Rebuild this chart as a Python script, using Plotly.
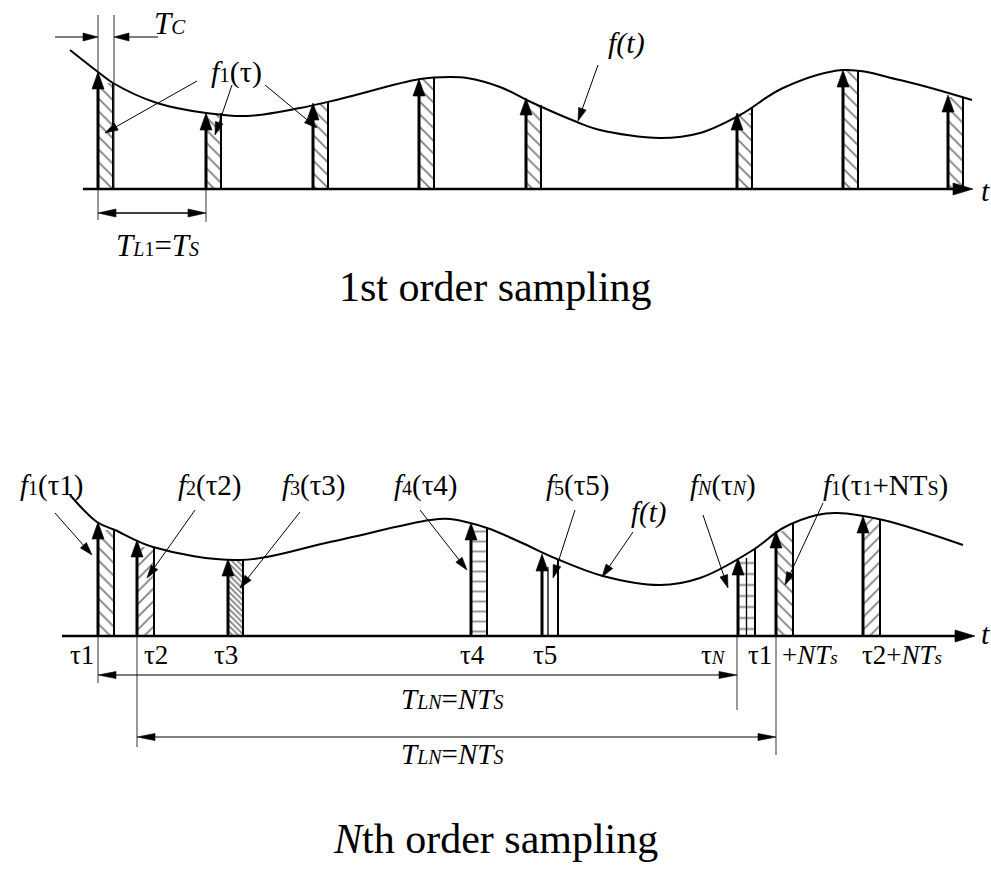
import plotly.graph_objects as go

FONT = "Liberation Serif, Times New Roman, serif"

# ---------------- 1st order sampling (upper panel) ----------------
# signal f(t): time positions and amplitudes above the time axis
top_curve_t = [70, 98, 113, 157, 206, 247, 300, 340, 420, 450, 467, 500, 533,
               577, 600, 660, 700, 740, 783, 843, 900, 972]
top_curve_f = [139, 117, 106, 86, 76, 73, 81, 90, 110, 112, 111, 102, 86,
               67, 59, 51, 56, 74, 101, 119, 109, 89]
# sampling instants, value at the start and at the end of each window
top_t = [98, 206, 313, 419, 526, 737, 843, 948]
top_f = [117, 76, 86, 110, 91, 76, 119, 94]
top_f_end = [106, 76, 87, 112, 84, 82, 118, 92]
Tc = 15          # window length
top_axis = (83, 973)

# ---------------- Nth order sampling (lower panel) ----------------
bot_curve_t = [70, 97, 115, 153, 240, 330, 430, 450, 487, 520, 557, 603, 660,
               700, 753, 783, 817, 837, 883, 963]
bot_curve_f = [141, 114, 106, 89, 76, 94, 116, 117, 108, 94, 77, 60, 51,
               58, 86, 108, 121, 123, 116, 91]
bot_t = [98, 137, 228, 471, 542, 738, 776, 863]
bot_w = [16, 17, 15, 16, 16, 17, 17, 17]
bot_f = [114, 96, 77, 113, 82, 78, 105, 120]
bot_f_end = [106, 89, 76, 108, 77, 87, 112, 117]
bot_hatch = ["\\", "/", "\\", "-", "", "-", "\\", "/"]
bot_hatch_size = [9, 9, 4, 10, 8, 11, 9, 9]
bot_solidity = [0.2, 0.2, 0.45, 0.16, 0.1, 0.16, 0.2, 0.2]
bot_axis = (62, 975)
bot_tick_labels = ["τ1", "τ2", "τ3", "τ4", "τ5", "τ<i><span style='font-size:19px'>N</span></i>",
                   "τ1", "+<i>NT</i><i><span style='font-size:19px'>s</span></i>",
                   "τ2+<i>NT</i><i><span style='font-size:19px'>s</span></i>"]
bot_tick_x = [82, 156, 226, 472, 545, 713, 760, 810, 902]

N_WINDOW = 639   # N*Ts span of the dimension arrows (tau_1 -> tau_N)

fig = go.Figure()


def sm(txt, size):
    return "<span style='font-size:%dpx'>%s</span>" % (size, txt)


def add_arrows(arrows, yaxis, width, head_len, head_w, both=False):
    xs, ys, hx, hy = [], [], [], []
    for (x0, y0, x1, y1) in arrows:
        dx, dy = x1 - x0, y1 - y0
        d = (dx * dx + dy * dy) ** 0.5
        ux, uy = dx / d, dy / d
        ends = [(x1, y1, ux, uy)]
        sx0, sy0 = x0, y0
        if both:
            ends.append((x0, y0, -ux, -uy))
            sx0, sy0 = x0 + ux * head_len * 0.6, y0 + uy * head_len * 0.6
        xs += [sx0, x1 - ux * head_len * 0.6, None]
        ys += [sy0, y1 - uy * head_len * 0.6, None]
        for (tx, ty, vx, vy) in ends:
            bx, by = tx - vx * head_len, ty - vy * head_len
            mx, my = -vy, vx
            hx += [tx, bx + mx * head_w / 2, bx - mx * head_w / 2, tx, None]
            hy += [ty, by + my * head_w / 2, by - my * head_w / 2, ty, None]
    fig.add_trace(go.Scatter(x=xs, y=ys, mode="lines", yaxis=yaxis,
                             line=dict(color="black", width=width),
                             hoverinfo="skip", showlegend=False))
    fig.add_trace(go.Scatter(x=hx, y=hy, mode="lines", fill="toself", yaxis=yaxis,
                             fillcolor="black", line=dict(color="black", width=0.6),
                             hoverinfo="skip", showlegend=False))


def add_lines(segs, yaxis, width, color="black"):
    xs, ys = [], []
    for (x0, y0, x1, y1) in segs:
        xs += [x0, x1, None]
        ys += [y0, y1, None]
    fig.add_trace(go.Scatter(x=xs, y=ys, mode="lines", yaxis=yaxis,
                             line=dict(color=color, width=width),
                             hoverinfo="skip", showlegend=False))


# ---------- hatched sampling windows ----------
fig.add_trace(go.Bar(
    x=[t + Tc / 2 for t in top_t], y=[min(a, b) for a, b in zip(top_f, top_f_end)],
    width=[Tc] * len(top_t), base=0, yaxis="y",
    marker=dict(color="white", line=dict(width=0),
                pattern=dict(shape="\\", size=9, solidity=0.2,
                             fgcolor="black", bgcolor="white")),
    hoverinfo="skip", showlegend=False))

fig.add_trace(go.Bar(
    x=[t + w / 2 for t, w in zip(bot_t, bot_w)],
    y=[min(a, b) for a, b in zip(bot_f, bot_f_end)],
    width=bot_w, base=0, yaxis="y2",
    marker=dict(color="white", line=dict(width=0),
                pattern=dict(shape=bot_hatch, size=bot_hatch_size, solidity=bot_solidity,
                             fgcolor="black", bgcolor="white")),
    hoverinfo="skip", showlegend=False))

# ---------- signal curves ----------
fig.add_trace(go.Scatter(x=top_curve_t, y=top_curve_f, mode="lines", yaxis="y",
                         line=dict(color="black", width=2, shape="spline", smoothing=1.0),
                         hoverinfo="skip", showlegend=False))
fig.add_trace(go.Scatter(x=bot_curve_t, y=bot_curve_f, mode="lines", yaxis="y2",
                         line=dict(color="black", width=2, shape="spline", smoothing=1.0),
                         hoverinfo="skip", showlegend=False))

# ---------- window trailing edges ----------
add_lines([(t + Tc, 0, t + Tc, fe) for t, fe in zip(top_t, top_f_end)], "y", 2)
add_lines([(t + w, 0, t + w, fe) for t, w, fe in zip(bot_t, bot_w, bot_f_end)], "y2", 2)
# inner rungs of the τ5 and τN windows
add_lines([(bot_t[4] + 6, 0, bot_t[4] + 6, bot_f_end[4] - 8),
           (bot_t[5] + bot_w[5] / 2, 0, bot_t[5] + bot_w[5] / 2, bot_f[5])], "y2", 1.3)

# ---------- extension (witness) lines ----------
add_lines([(top_t[0], 174, top_t[0], -31), (top_t[0] + Tc + 1, 174, top_t[0] + Tc + 1, 0),
           (top_t[1], 0, top_t[1], -33)], "y", 1, "#333")
add_lines([(bot_t[0], 0, bot_t[0], -47), (bot_t[1], 0, bot_t[1], -111),
           (bot_t[0] + N_WINDOW, 0, bot_t[0] + N_WINDOW, -74),
           (bot_t[1] + N_WINDOW, 0, bot_t[1] + N_WINDOW, -119)], "y2", 1, "#333")

# ---------- time axes ----------
add_arrows([(top_axis[0], 0, top_axis[1], 0)], "y", 2.6, 20, 12)
add_arrows([(bot_axis[0], 0, bot_axis[1], 0)], "y2", 2.6, 20, 12)

# ---------- sample impulses ----------
add_arrows([(t, 0, t, f) for t, f in zip(top_t, top_f)], "y", 3, 17, 12)
add_arrows([(t, 0, t, f) for t, f in zip(bot_t, bot_f)], "y2", 3, 17, 12)

# ---------- label pointers ----------
add_arrows([(197, 108, 105, 56), (232, 104, 215, 54), (265, 104, 317, 61),
            (598, 124, 578, 68)], "y", 1, 13, 8)
add_arrows([(55, 123, 92, 81), (195, 126, 147, 58), (300, 124, 240, 48),
            (420, 126, 467, 66), (575, 126, 553, 58), (633, 104, 602, 59),
            (703, 121, 728, 48), (823, 133, 785, 51)], "y2", 1, 13, 8)

# ---------- dimension arrows ----------
add_arrows([(55, 152, top_t[0], 152), (158, 152, top_t[0] + Tc + 1, 152)], "y", 1.2, 15, 8)
add_arrows([(top_t[0], -24, top_t[1], -24)], "y", 1.4, 18, 8, both=True)
add_arrows([(bot_t[0], -39, bot_t[0] + N_WINDOW, -39),
            (bot_t[1], -101, bot_t[1] + N_WINDOW, -101)], "y2", 1.1, 18, 7, both=True)

# ---------- text ----------
ann = []


def txt(x, y, text, size, yref, xanchor="center"):
    ann.append(dict(x=x, y=y, xref="x", yref=yref, text=text, showarrow=False,
                    xanchor=xanchor, yanchor="middle",
                    font=dict(family=FONT, size=size, color="black")))


txt(170, 166, "<i>T</i><i>" + sm("C", 21) + "</i>", 31, "y")
txt(236, 117, "<i>f</i>" + sm("1", 21) + "(τ)", 30, "y")
txt(626, 146, "<i>f(t)</i>", 30, "y")
txt(979, -1, "<i>t</i>", 30, "y", "left")
txt(157, -56, "<i>T</i><i>" + sm("L", 20) + "</i>" + sm("1", 20) + "=<i>T</i><i>" + sm("S", 20) + "</i>",
    31, "y")
txt(495, -98, "1st order sampling", 42, "y")

txt(52, 151, "<i>f</i>" + sm("1", 20) + "(τ1)", 29, "y2")
txt(210, 151, "<i>f</i>" + sm("2", 20) + "(τ2)", 29, "y2")
txt(314, 151, "<i>f</i>" + sm("3", 20) + "(τ3)", 29, "y2")
txt(426, 151, "<i>f</i>" + sm("4", 20) + "(τ4)", 29, "y2")
txt(578, 151, "<i>f</i>" + sm("5", 20) + "(τ5)", 29, "y2")
txt(648, 124, "<i>f(t)</i>", 29, "y2")
txt(723, 151, "<i>f</i><i>" + sm("N", 20) + "</i>(τ<i>" + sm("N", 20) + "</i>)", 29, "y2")
txt(885, 151, "<i>f</i>" + sm("1", 20) + "(τ" + sm("1", 20) + "+NT" + sm("S", 20) + ")", 29, "y2")
txt(979, 3, "<i>t</i>", 30, "y2", "left")
for x, lab in zip(bot_tick_x, bot_tick_labels):
    txt(x, -19, lab, 27, "y2")
tln = "<i>T</i><i>" + sm("LN", 20) + "</i>=<i>NT</i><i>" + sm("S", 20) + "</i>"
txt(452, -63, tln, 29, "y2")
txt(452, -118, tln, 29, "y2")
txt(495, -203, "<i>N</i>th order sampling", 42, "y2")

fig.update_layout(
    width=991, height=873, autosize=False,
    margin=dict(l=0, r=0, t=0, b=0),
    paper_bgcolor="white", plot_bgcolor="white",
    barmode="overlay", annotations=ann,
    xaxis=dict(range=[0, 991], visible=False, fixedrange=True),
    yaxis=dict(domain=[0.5, 1], range=[-247.5, 189], visible=False, fixedrange=True),
    yaxis2=dict(domain=[0, 0.5], range=[-237, 199.5], visible=False, fixedrange=True,
                anchor="x"),
)

fig.write_html("out.html")
